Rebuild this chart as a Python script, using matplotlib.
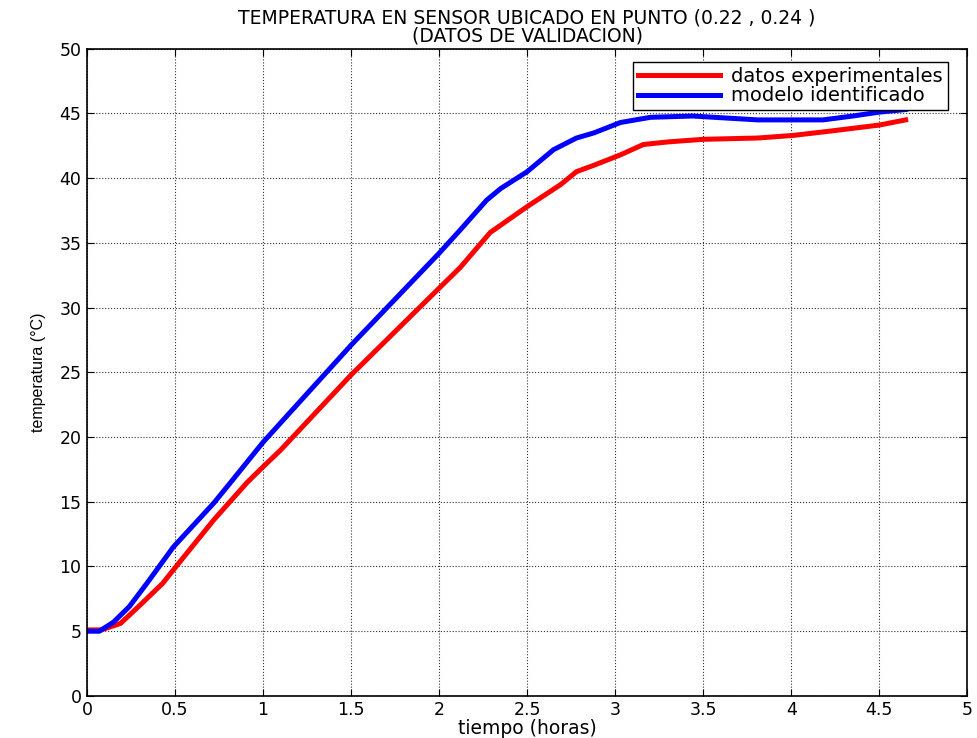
import matplotlib.pyplot as plt
import numpy as np

plt.rcParams.update({
    "font.family": ["DejaVu Sans"],
    "xtick.direction": "in",
    "ytick.direction": "in",
})

# experimental data (red)
t_exp = [0, 0.08, 0.19, 0.30, 0.43, 0.5, 0.72, 0.91, 1.0, 1.10, 1.5, 2.0, 2.12,
         2.29, 2.5, 2.69, 2.78, 2.88, 3.03, 3.16, 3.3, 3.5, 3.81, 4.01, 4.2, 4.5, 4.65]
temp_exp = [5.1, 5.1, 5.6, 7.0, 8.7, 9.9, 13.6, 16.5, 17.7, 19.0, 24.8, 31.5, 33.1,
            35.8, 37.8, 39.5, 40.5, 41.0, 41.8, 42.6, 42.8, 43.0, 43.1, 43.3, 43.6, 44.1, 44.5]

# identified model (blue)
t_mod = [0, 0.07, 0.15, 0.24, 0.34, 0.49, 0.72, 0.81, 1.0, 1.5, 2.0, 2.12, 2.27,
         2.35, 2.5, 2.65, 2.78, 2.88, 3.03, 3.2, 3.44, 3.81, 4.18, 4.35, 4.5, 4.65]
temp_mod = [5.0, 5.0, 5.7, 6.9, 8.7, 11.5, 14.9, 16.4, 19.6, 27.1, 34.2, 36.0, 38.3,
            39.2, 40.5, 42.2, 43.1, 43.5, 44.3, 44.7, 44.8, 44.5, 44.5, 44.8, 45.1, 45.3]

xticks = np.arange(0, 5.01, 0.5)
xticklabels = ["0", "0.5", "1", "1.5", "2", "2.5", "3", "3.5", "4", "4.5", "5"]
yticks = np.arange(0, 51, 5)

fig = plt.figure(figsize=(9.78, 7.38), dpi=100)
ax = fig.add_axes([0.089, 0.057, 0.900, 0.877])

ax.plot(t_exp, temp_exp, color="#ff0000", linewidth=3.6, label="datos experimentales")
ax.plot(t_mod, temp_mod, color="#0000ff", linewidth=3.6, label="modelo identificado")

ax.set_xlim(0, 5)
ax.set_ylim(0, 50)
ax.set_xticks(xticks)
ax.set_xticklabels(xticklabels)
ax.set_yticks(yticks)
ax.tick_params(labelsize=12.5, top=True, right=True, length=5, width=0.8, pad=4)
ax.grid(True, linestyle=":", color="#333333", linewidth=0.8)
for s in ax.spines.values():
    s.set_linewidth(1.2)

ax.set_xlabel("tiempo (horas)", fontsize=13.5, labelpad=0)
ax.set_ylabel("temperatura (°C)", fontsize=11.5,
              family=["Liberation Sans Narrow", "Liberation Sans"], labelpad=10)
ax.set_title("TEMPERATURA EN SENSOR UBICADO EN PUNTO (0.22 , 0.24 )\n(DATOS DE VALIDACION)",
             fontsize=13.5, linespacing=0.95, pad=5)

leg = ax.legend(loc="upper right", bbox_to_anchor=(0.978, 0.980), fontsize=14,
                fancybox=False, framealpha=1, edgecolor="black", handlelength=4.2,
                handletextpad=0.6, borderpad=0.25, labelspacing=0.05, borderaxespad=0)
leg.get_frame().set_linewidth(1.0)

fig.savefig("out.png", dpi=100)
